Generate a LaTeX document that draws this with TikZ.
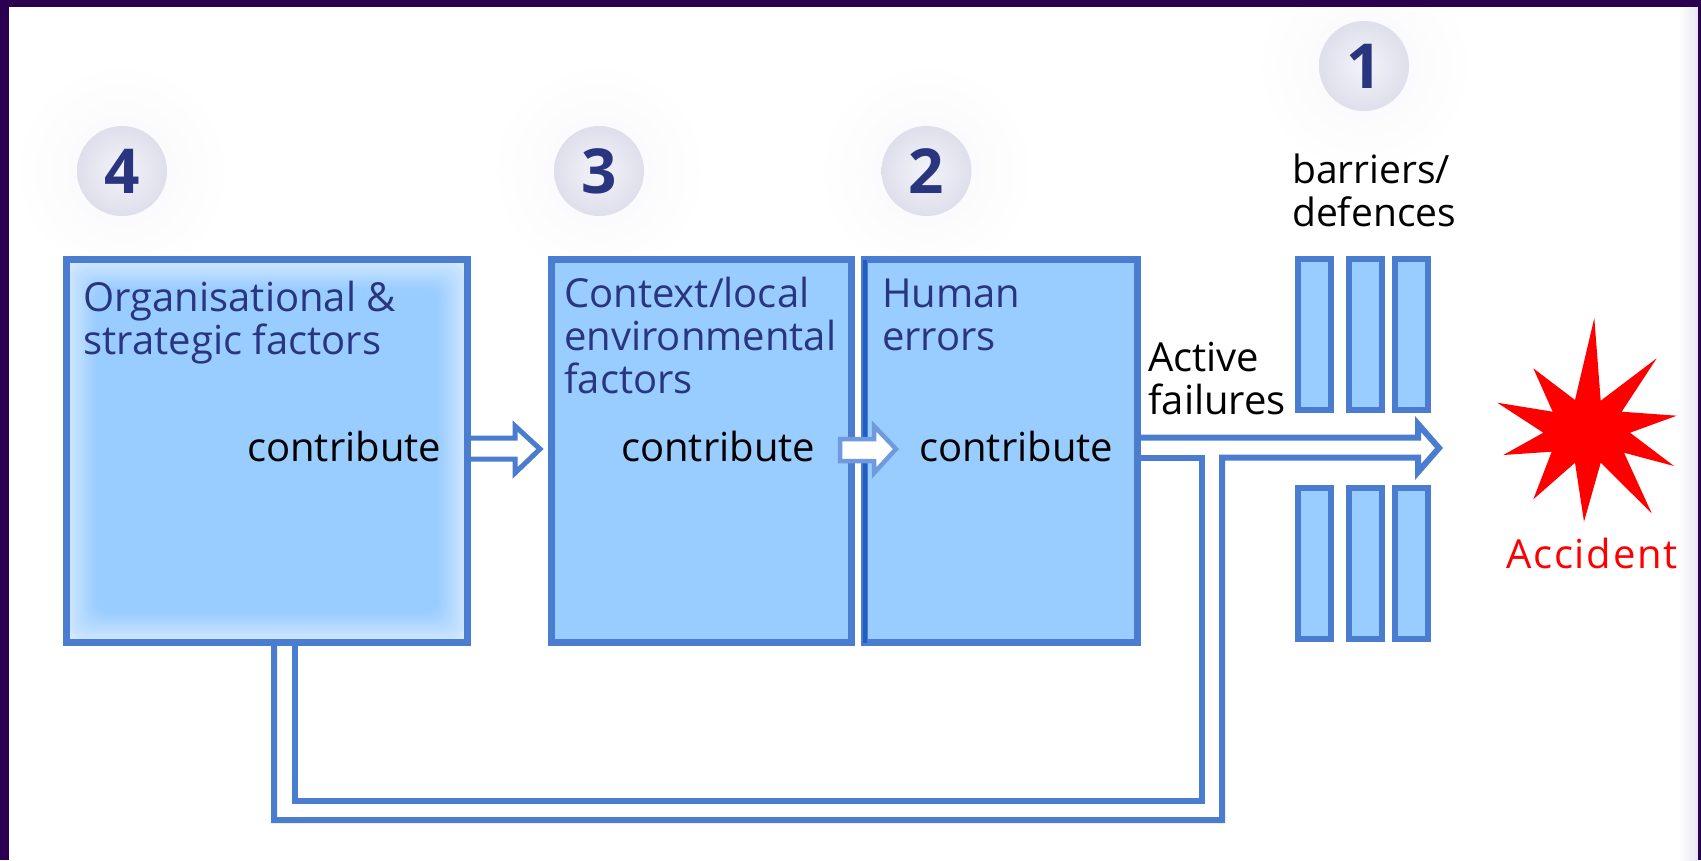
\documentclass[tikz,border=0pt]{standalone}
\usepackage{fontspec}
\setmainfont{Open Sans}
\usetikzlibrary{calc}
\definecolor{frame}{HTML}{2C0050}
\definecolor{edge}{HTML}{4A7CD0}
\definecolor{edgelt}{HTML}{6F9ADF}
\definecolor{edgedk}{HTML}{1F5FC4}
\definecolor{sky}{HTML}{99CCFF}
\definecolor{ink}{HTML}{2A3580}
\definecolor{badgein}{HTML}{F3F3F9}
\definecolor{badgeout}{HTML}{DEDFEB}
\definecolor{haloin}{HTML}{F8F8FB}
\definecolor{sidefade}{HTML}{E8E8F1}
\tikzset{
  x=1pt,y=-1pt,
  panel/.style={draw=edge,line width=7pt,fill=sky,inner sep=0pt,outer sep=0pt,minimum height=383pt},
  barbox/.style={draw=edge,line width=6pt,fill=sky,inner sep=0pt,outer sep=0pt,minimum width=33pt,minimum height=151pt},
  title/.style={text=ink,font=\fontsize{40}{43}\selectfont,align=left,anchor=base west,inner sep=0pt},
  note/.style={text=black,font=\fontsize{40}{43}\selectfont,align=left,anchor=base west,inner sep=0pt},
  badge/.style={circle,minimum size=90pt,inner sep=0pt,outer sep=0pt,
    inner color=badgein,outer color=badgeout,text=ink,font=\fontsize{62}{62}\selectfont\bfseries},
  pipe/.style={draw=edge,line width=6pt,miter limit=20},
}
\begin{document}
\begin{tikzpicture}
\useasboundingbox (0,0) rectangle (1701,860);
\fill[white] (0,0) rectangle (1701,860);
\shade[left color=white,right color=sidefade] (1678,7) rectangle (1698,860);
% halos
\foreach \hx/\hy in {122/171,599/171,926.5/171,1364/66}
  \shade[inner color=haloin,outer color=white] (\hx,\hy) circle[radius=110];
\fill[frame] (0,0) rectangle (1701,6.5);
\fill[frame] (0,0) rectangle (8.5,860);
\fill[frame] (1698,0) rectangle (1701,860);
% badges
\node[badge] (n4) at (122,171) {4};
\node[badge] (n3) at (599,171) {3};
\node[badge] (n2) at (926.5,171) {2};
\node[badge] (n1) at (1364,66) {1};
% boxes
\node[panel,minimum width=401pt] (b4) at (267,451) {};
\fill[white!55!sky] (b4.north west) rectangle (b4.south east);
\foreach \k in {0,...,24}{
  \pgfmathsetmacro\mixv{50-\k*50/24}
  \pgfmathsetmacro\ins{3.5+\k*1.1}
  \fill[white!\mixv!sky,rounded corners=14pt]
    ($(b4.north west)+(\ins,\ins)$) rectangle ($(b4.south east)+(-\ins,-\ins)$);
}
\draw[edge,line width=7pt] (b4.north west) rectangle (b4.south east);
\node[panel,minimum width=300pt] (b3) at (701.5,451) {};
\node[panel,minimum width=273pt] (b2) at (1001,451) {};
\draw[edgedk,line width=4pt] (b2.north west) -- (b2.south west);
% barriers
\node[barbox] (t1) at (1314.5,334.5) {};
\node[barbox] (t2) at (1365,334.5) {};
\node[barbox] (t3) at (1411.5,334.5) {};
\node[barbox] (u1) at (1314.5,563.5) {};
\node[barbox] (u2) at (1365,563.5) {};
\node[barbox] (u3) at (1411.5,563.5) {};
% connectors
\coordinate (hb) at (1418,448);
\draw[pipe,line join=miter]
  (b2.east |- 0,437.5) -- (hb |- 0,437.5) -- (1418,424) -- (1439,448) -- (1418,472) -- (hb |- 0,457.5)
  -- (1222,457.5) -- (1222,820) -- (274,820) -- (b4.south -| 274,0);
\draw[pipe]
  (b2.east |- 0,457.5) -- (1201.5,457.5) -- (1201.5,800.5) -- (295,800.5) -- (b4.south -| 295,0);
\draw[edge,line width=5pt,miter limit=20]
  (b4.east |- 0,438) -- (515,438) -- (515,426) -- (540,449) -- (515,473) -- (515,459) -- (b4.east |- 0,459);
\fill[white] (840,439) -- (874,439) -- (874,426) -- (896,449) -- (874,473) -- (874,461) -- (840,461) -- cycle;
\draw[edgelt,line width=4.5pt,miter limit=20,line join=miter]
  (840,439) -- (874,439) -- (874,426) -- (896,449) -- (874,473) -- (874,461) -- (840,461) -- cycle;
% labels
\node[title] (l4) at (83.5,354) {Organisational \&\\strategic factors};
\node[title] (l3) at (564,393) {Context/local\\environmental\\factors};
\node[title] (l2) at (882,350) {Human\\errors};
\node[note] (c4) at (247,461) {contribute};
\node[note] (c3) at (621,461) {contribute};
\node[note] (c2) at (919,461) {contribute};
\node[note] (af) at (1148,414) {Active\\failures};
\node[note,font=\fontsize{39}{43}\selectfont] (bd) at (1292,226.5) {barriers/\\defences};
\node[note,text=red,font=\fontsize{40}{43}\selectfont\addfontfeature{LetterSpace=4.5}] (acc) at (1506,568) {Accident};
% star
\fill[red] (1594.3,318) -- (1600.7,400.7) -- (1656.7,358.3) -- (1621.7,411.7) -- (1676.7,415.7) -- (1630,432.7)
  -- (1674,466) -- (1624,452.7) -- (1651.7,513.3) -- (1600.7,462.7) -- (1584,521.7) -- (1575,462.7)
  -- (1533.3,499.3) -- (1551.7,451.7) -- (1503.3,455) -- (1543.3,432.7) -- (1497.3,402.7) -- (1552.7,411.7)
  -- (1533.3,368.3) -- (1575,400) -- cycle;
\end{tikzpicture}
\end{document}
